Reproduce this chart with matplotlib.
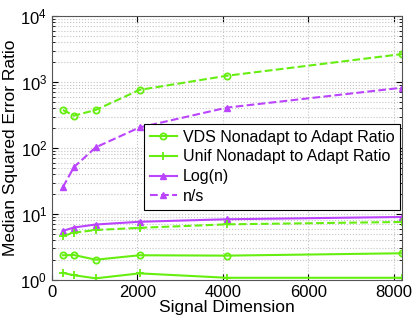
import matplotlib
matplotlib.use("Agg")
import matplotlib.pyplot as plt
from matplotlib.ticker import LogLocator

plt.rcParams['font.family'] = ['Liberation Sans', 'DejaVu Sans']
plt.rcParams['mathtext.default'] = 'regular'

n = [256, 512, 1024, 2048, 4096, 8192]
vds_ratio = [2.37, 2.39, 2.03, 2.37, 2.34, 2.54]
unif_ratio = [1.28, 1.18, 1.06, 1.26, 1.08, 1.08]
log_n = [5.55, 6.24, 6.93, 7.62, 8.32, 9.01]
n_over_s = [25.6, 51.2, 102.4, 204.8, 409.6, 819.2]
vds_dashed = [377, 309, 377, 759, 1245, 2650]
unif_dashed = [4.64, 5.21, 5.72, 6.17, 6.97, 7.57]

green = '#66ee11'
purple = '#bb44ff'

fig = plt.figure(figsize=(4.15, 3.19), dpi=100)
ax = fig.add_axes([0.1253, 0.1223, 0.8434, 0.8275])

ax.plot(n, vds_ratio, '-o', color=green, lw=1.5, ms=4.5, mfc='none', mew=1.3,
        label='VDS Nonadapt to Adapt Ratio')
ax.plot(n, unif_ratio, '-+', color=green, lw=1.5, ms=6, mew=1.3,
        label='Unif Nonadapt to Adapt Ratio')
ax.plot(n, log_n, '-^', color=purple, lw=1.5, ms=4.5, label='Log(n)')
ax.plot(n, n_over_s, '--^', color=purple, lw=1.5, ms=4.5, label='n/s')
ax.plot(n, vds_dashed, '--o', color=green, lw=1.5, ms=4.5, mfc='none', mew=1.3)
ax.plot(n, unif_dashed, '--+', color=green, lw=1.5, ms=6, mew=1.3)

ax.set_yscale('log')
ax.set_xlim(0, 8192)
ax.set_ylim(1, 1e4)
ax.set_xticks([0, 2000, 4000, 6000, 8000])
ax.yaxis.set_major_locator(LogLocator(base=10, numticks=10))
ax.yaxis.set_minor_locator(LogLocator(base=10, subs=range(2, 10), numticks=100))

ax.grid(True, which='major', linestyle=':', color='#c4c4c4', lw=0.8)
ax.grid(True, which='minor', axis='y', linestyle=':', color='#c4c4c4', lw=0.8)
ax.tick_params(which='both', direction='in', top=True, right=True, labelsize=12)
ax.tick_params(which='major', length=4)
ax.tick_params(which='minor', length=2)
for s in ax.spines.values():
    s.set_color('#555555')

ax.set_xlabel('Signal Dimension', fontsize=12.5, labelpad=0)
ax.set_ylabel('Median Squared Error Ratio', fontsize=12.5, labelpad=2)

leg = ax.legend(loc='upper left', bbox_to_anchor=(0.263, 0.591), fontsize=11.5,
                fancybox=False, framealpha=1, edgecolor='black',
                handlelength=1.7, borderpad=0.35, labelspacing=0.3,
                handletextpad=0.4, borderaxespad=0)
leg.get_frame().set_linewidth(0.8)

fig.savefig('out.png', dpi=100)
